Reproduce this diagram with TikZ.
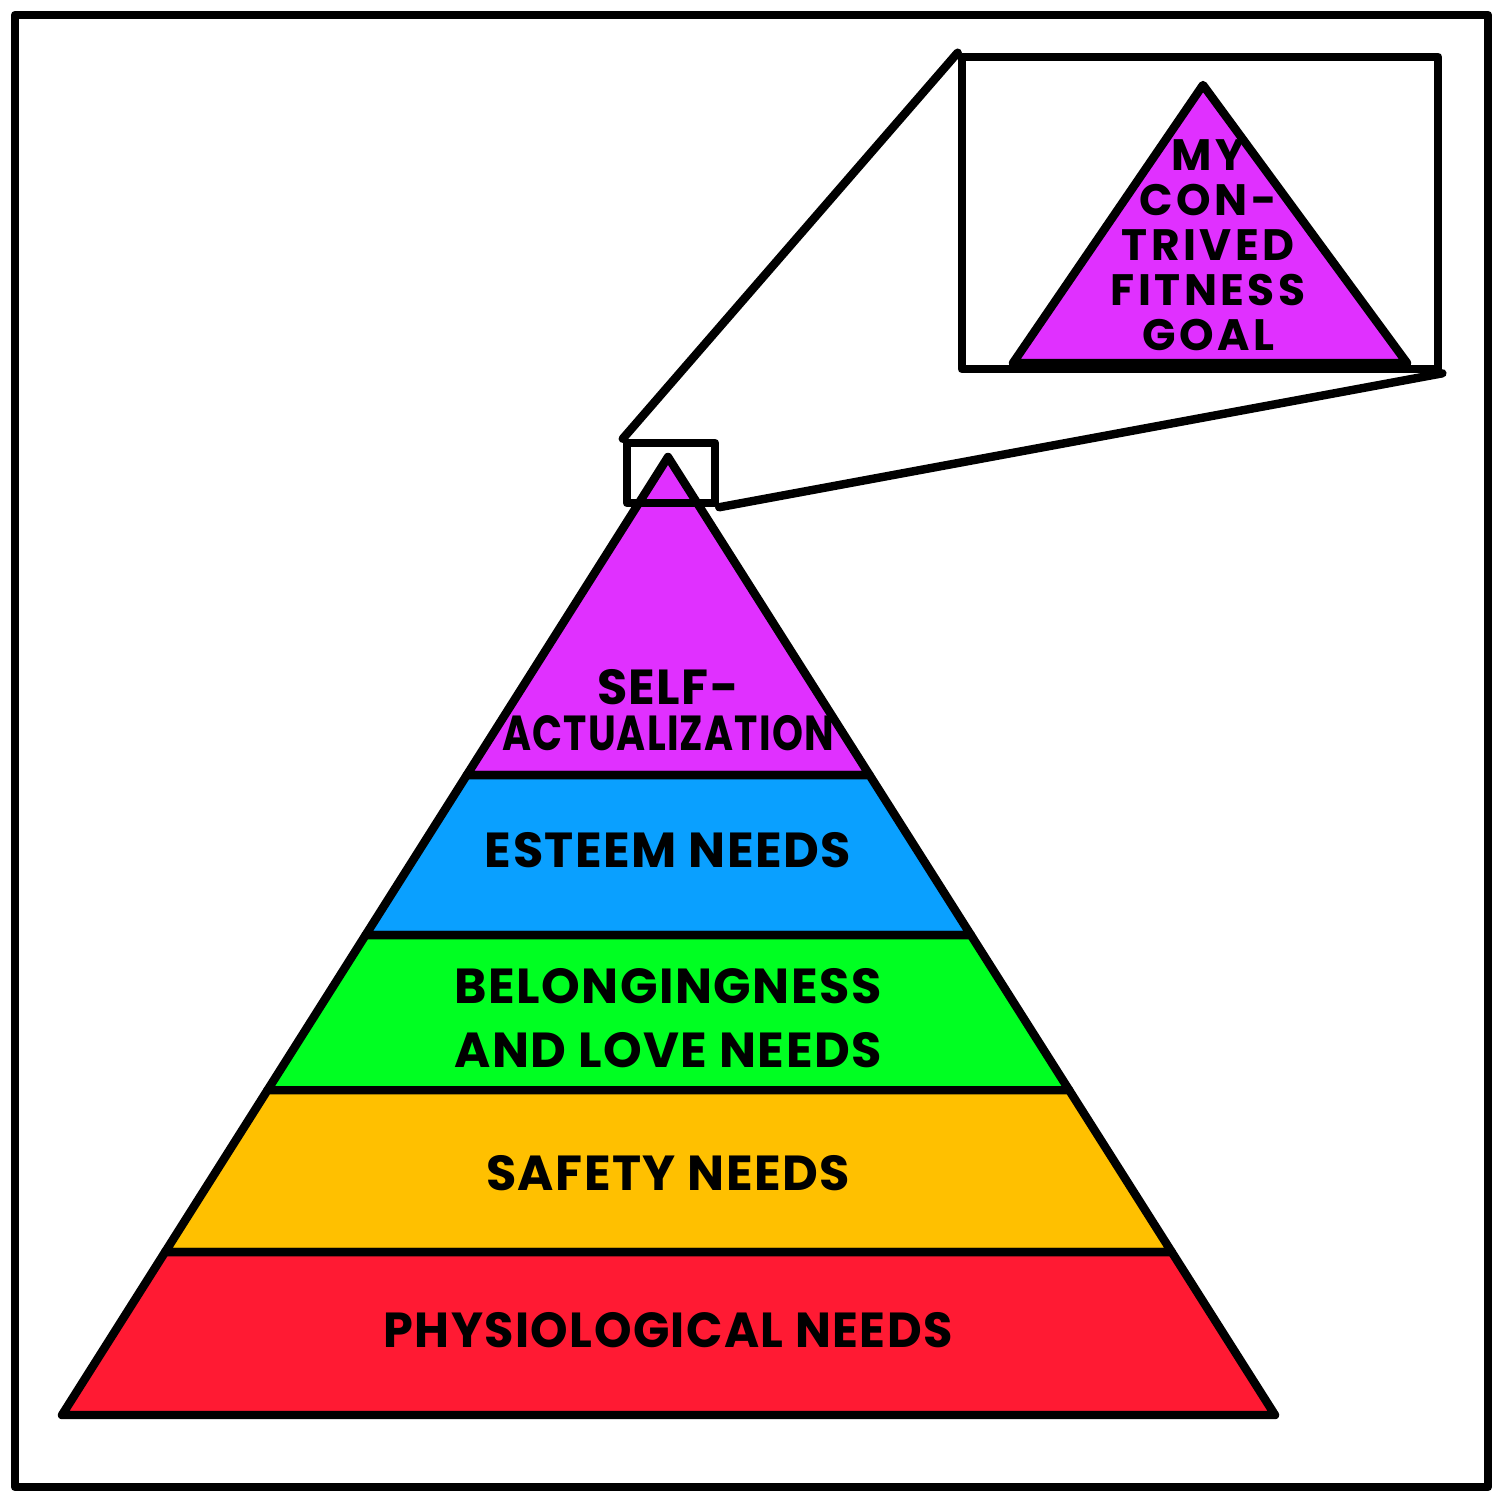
\documentclass[tikz,border=0pt]{standalone}
\usepackage{fontspec}
\usepackage{graphicx}
\setmainfont{Poppins}
\usetikzlibrary{calc}
\definecolor{selfcol}{RGB}{224,48,255}
\definecolor{esteemcol}{RGB}{10,160,255}
\definecolor{lovecol}{RGB}{0,255,34}
\definecolor{safecol}{RGB}{255,192,0}
\definecolor{physcol}{RGB}{255,26,51}
\tikzset{
  ink/.style={line width=2.4pt, line join=round, line cap=round},
  layer/.style={ink, draw=black},
  label/.style={font=\bfseries\fontsize{14}{13}\selectfont\addfontfeature{LetterSpace=3}, align=center},
  smalllabel/.style={font=\bfseries\fontsize{12.5}{12.8}\selectfont\addfontfeature{LetterSpace=8}, align=center}
}
\begin{document}
\begin{tikzpicture}[x=0.01cm, y=-0.01cm]
		\useasboundingbox (0,0) rectangle (1500,1500);
		\draw[ink] (15,15) rectangle (1488,1487);
		
		\coordinate (apex) at (668,457);
		\coordinate (bl) at (62,1415);
		\coordinate (br) at (1275,1415);
		\foreach \t/\n in {0.332/a, 0.499/b, 0.661/c, 0.830/d} {
			\coordinate (l\n) at ($(apex)!\t!(bl)$);
			\coordinate (r\n) at ($(apex)!\t!(br)$);
		}
		
		\filldraw[layer, fill=selfcol] (apex) -- (la) -- (ra) -- cycle;
		\filldraw[layer, fill=esteemcol] (la) -- (lb) -- (rb) -- (ra) -- cycle;
		\filldraw[layer, fill=lovecol] (lb) -- (lc) -- (rc) -- (rb) -- cycle;
		\filldraw[layer, fill=safecol] (lc) -- (ld) -- (rd) -- (rc) -- cycle;
		\filldraw[layer, fill=physcol] (ld) -- (bl) -- (br) -- (rd) -- cycle;
		
		\node[label] (self) at (668,710) {SELF-\\\scalebox{0.8}[1]{ACTUALIZATION}};
		\node[label] (esteem) at (668,850) {ESTEEM NEEDS};
		\node[label] (love) at (668,1018) {BELONGINGNESS\\[5pt]AND LOVE NEEDS};
		\node[label] (safety) at (668,1173) {SAFETY NEEDS};
		\node[label] (phys) at (668,1330) {\scalebox{0.97}[1]{PHYSIOLOGICAL NEEDS}};
		
		\node[ink, draw, minimum width=0.88cm, minimum height=0.6cm, inner sep=0pt] (zoombox) at (671,473) {};
		\node[ink, draw, minimum width=4.76cm, minimum height=3.12cm, inner sep=0pt] (inset) at (1200,213) {};
		\filldraw[layer, fill=selfcol] (1203,85) coordinate (itop) -- (1013,363) -- (1407,363) -- cycle;
		\node[smalllabel] (goal) at (1208,245) {MY\\CON-\\TRIVED\\FITNESS\\GOAL};
		
		\draw[ink] (zoombox.north west) -- (inset.north west);
		\draw[ink] (zoombox.south east) -- (inset.south east);
		
	\end{tikzpicture}
\end{document}
